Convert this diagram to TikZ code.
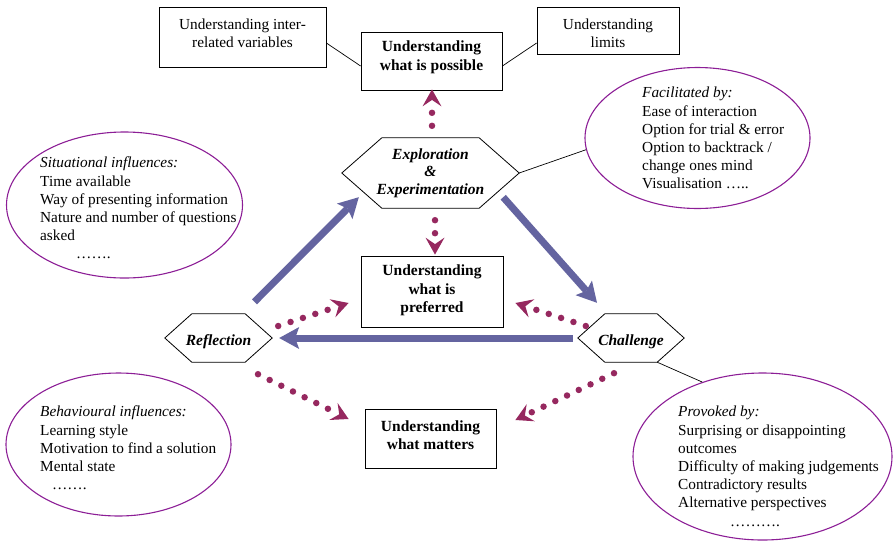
\documentclass[tikz,border=0pt]{standalone}
\usepackage{fontspec}
\setmainfont{Liberation Serif}
\usetikzlibrary{shapes.geometric,arrows.meta,calc}
\definecolor{flowblue}{RGB}{100,100,160}
\definecolor{dotred}{RGB}{150,40,95}
\definecolor{ellpurple}{RGB}{140,30,150}
\newcommand\mkhex[2]{\draw[hexline] (#1.west) -- ([xshift=#2]#1.north west) -- ([xshift=-#2]#1.north east) -- (#1.east) -- ([xshift=-#2]#1.south east) -- ([xshift=#2]#1.south west) -- cycle;}
\begin{document}
\begin{tikzpicture}[x=1pt,y=-1pt,
  box/.style={draw, line width=0.8pt, inner sep=0pt},
  txt/.style={font=\fontsize{15.3}{18.3}\selectfont, align=center, inner sep=0pt},
  btxt/.style={font=\fontsize{15.5}{18.5}\selectfont\bfseries, align=center, inner sep=0pt},
  hextxt/.style={font=\fontsize{15.5}{17.5}\selectfont\bfseries\itshape, align=center, inner sep=0pt},
  hexline/.style={draw, line width=0.8pt},
  ell/.style={ellipse, draw=ellpurple, line width=1.1pt, inner sep=0pt},
  etxt/.style={font=\fontsize{15.3}{18.2}\selectfont, align=left, inner sep=0pt, anchor=north west},
  thin/.style={draw, line width=0.7pt},
  flow/.style={draw=flowblue, line width=7pt, -{Stealth[length=20pt,width=22pt,inset=4pt,line width=0pt]}},
  dotarr/.style={draw=dotred, line width=6.5pt, line cap=round, dash pattern=on 0pt off 13pt,
     -{Stealth[length=17pt,width=19pt,inset=6.5pt,line width=0pt]}}
]
\useasboundingbox (0,0) rectangle (894,542);

% top boxes
\node[box, minimum width=167pt, minimum height=60pt] (vars) at (242.5,37) {};
\node[txt] (varsT) at (242.5,33) {Understanding inter-\\related variables};
\node[box, minimum width=141pt, minimum height=58pt] (poss) at (431.5,61) {};
\node[btxt] (possT) at (431.5,57.5) {Understanding\\what is possible};
\node[box, minimum width=142pt, minimum height=47pt] (lims) at (608,30.5) {};
\node[txt] (limsT) at (608,33) {Understanding\\limits};
\draw[thin] (vars.east |- 0,43) -- (poss.west |- 0,66);
\draw[thin] (poss.east |- 0,66) -- (lims.west |- 0,43);

% central boxes
\node[box, minimum width=142pt, minimum height=71pt] (pref) at (432,291.5) {};
\node[btxt] (prefT) at (432,290.5) {Understanding\\what is\\preferred};
\node[box, minimum width=131pt, minimum height=59pt] (matt) at (430.5,438.5) {};
\node[btxt] (mattT) at (430.5,435) {Understanding\\what matters};

% hexagons
\node[hextxt, minimum width=177pt, minimum height=70pt] (explo) at (430.5,173) {Exploration\\\&\\Experimentation};
\mkhex{explo}{40pt}
\node[hextxt, text height=14pt, text depth=0pt, minimum width=107pt, minimum height=48pt] (refl) at (218.5,338) {Reflection};
\mkhex{refl}{27pt}
\node[hextxt, text height=14pt, text depth=0pt, minimum width=106pt, minimum height=48pt] (chal) at (631,338) {Challenge};
\mkhex{chal}{27pt}

% ellipses
\node[ell, minimum width=236pt, minimum height=146pt] (sit) at (124.5,205) {};
\node[etxt] (sitT) at (40,157) {\textit{Situational influences:}\\Time available\\Way of presenting information\\Nature and number of questions\\asked\\\hspace*{36pt}…….};
\node[ell, minimum width=225pt, minimum height=141pt] (fac) at (697.5,138) {};
\node[etxt] (facT) at (642,87) {\textit{Facilitated by:}\\Ease of interaction\\Option for trial \& error\\Option to backtrack /\\change ones mind\\Visualisation …..};
\node[ell, minimum width=225pt, minimum height=143pt] (beh) at (118.5,444.5) {};
\node[etxt] (behT) at (40,406) {\textit{Behavioural influences:}\\Learning style\\Motivation to find a solution\\Mental state\\\hspace*{12pt}…….};
\node[ell, minimum width=259pt, minimum height=167pt] (prov) at (762.5,456.5) {};
\node[etxt] (provT) at (678,406) {\textit{Provoked by:}\\Surprising or disappointing\\outcomes\\Difficulty of making judgements\\Contradictory results\\Alternative perspectives\\\hspace*{52pt}……….};

% thin connectors to ellipses
\draw[thin] (explo.east) -- (fac.186);
\draw[thin] ([xshift=-27pt]chal.south east) -- (prov.129);

% blue flow arrows
\draw[flow] ($(refl.north)+(36,-12)$) -- ($(explo.south west)+(17,-11)$);
\draw[flow] ($(explo.south east)+(-16,-11)$) -- ($(chal.north)+(-34,-11)$);
\draw[flow] ($(chal.west)+(-5,0)$) -- ($(refl.east)+(7,0)$);

% dotted arrows
\draw[dotarr] ($(explo.north)+(1.5,-12)$) -- ($(poss.south)+(0.5,-1)$);
\draw[dotarr] ($(explo.south)+(4.5,12)$) -- ($(pref.north)+(3,-1)$);
\draw[dotarr] ($(refl.east)+(6,-12)$) -- ($(pref.west)+(-12,11.5)$);
\draw[dotarr] ($(refl.south)+(39.5,12)$) -- ($(matt.west)+(-16,-19.5)$);
\draw[dotarr] ($(chal.west)+(8,-12)$) -- ($(pref.east)+(12,11.5)$);
\draw[dotarr] ($(chal.south)+(-17,11)$) -- ($(matt.east)+(19,-18.5)$);
\end{tikzpicture}
\end{document}
